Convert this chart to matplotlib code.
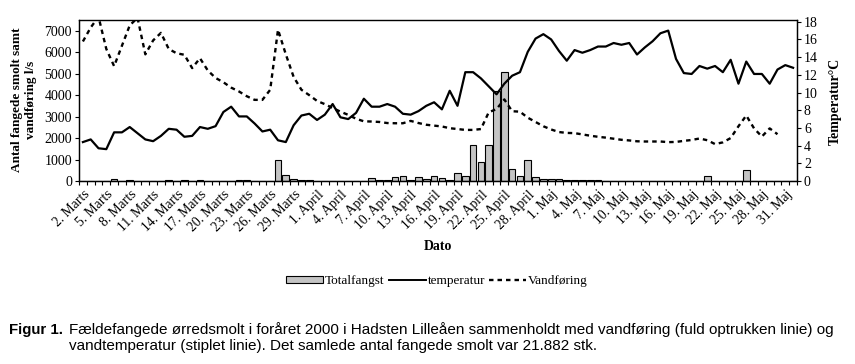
import numpy as np
import matplotlib
matplotlib.use('Agg')
import matplotlib.pyplot as plt
from matplotlib.patches import Patch
from matplotlib.lines import Line2D

# dage fra 2. marts til 1. juni 2000 (kategoriakse)
n_days = 92

totalfangst = [0, 0, 0, 0, 70, 0, 40, 0, 0, 0,
               0, 50, 0, 40, 0, 40, 0, 0, 0, 0,
               60, 30, 0, 0, 0, 1000, 270, 90, 40, 30,
               20, 0, 15, 15, 15, 0, 0, 120, 60, 60,
               170, 230, 50, 170, 100, 220, 160, 50, 390, 250,
               1700, 880, 1700, 4200, 5100, 560, 250, 980, 170, 90,
               80, 90, 50, 40, 50, 30, 30, 20, 20, 20,
               20, 0, 0, 0, 0, 0, 0, 0, 0, 0,
               250, 20, 0, 0, 0, 500, 0, 15, 15, 15,
               0, 0]

temperatur = [4.4, 4.7, 3.7, 3.6, 5.5, 5.5, 6.1, 5.4, 4.7, 4.5,
              5.1, 5.9, 5.8, 5.0, 5.1, 6.1, 5.9, 6.2, 7.8, 8.4,
              7.3, 7.3, 6.5, 5.6, 5.8, 4.6, 4.4, 6.3, 7.4, 7.6,
              6.9, 7.5, 8.7, 7.2, 7.0, 7.7, 9.3, 8.4, 8.4, 8.7,
              8.4, 7.6, 7.5, 7.9, 8.5, 8.9, 8.1, 10.2, 8.5, 12.3,
              12.3, 11.6, 10.7, 9.8, 11.0, 11.9, 12.3, 14.6, 16.1, 16.6,
              16.0, 14.7, 13.6, 14.8, 14.5, 14.8, 15.2, 15.2, 15.6, 15.4,
              15.6, 14.3, 15.1, 15.8, 16.7, 17.0, 13.8, 12.2, 12.1, 13.0,
              12.7, 13.0, 12.3, 13.7, 11.0, 13.5, 12.1, 12.1, 11.0, 12.6,
              13.1, 12.8]

vandforing = [6500, 7150, 7650, 6150, 5350, 6300, 7250, 7600, 5900, 6550,
              6900, 6150, 5950, 5880, 5260, 5720, 5150, 4800, 4600, 4350,
              4170, 3950, 3780, 3780, 4250, 7050, 5900, 4850, 4250, 4000,
              3730, 3580, 3400, 3230, 3080, 2900, 2780, 2770, 2750, 2700,
              2690, 2690, 2800, 2700, 2620, 2580, 2540, 2460, 2420, 2380,
              2380, 2420, 3200, 3350, 3800, 3250, 3230, 2950, 2750, 2550,
              2400, 2280, 2240, 2230, 2170, 2110, 2060, 2020, 1970, 1920,
              1890, 1850, 1840, 1840, 1840, 1810, 1820, 1870, 1910, 1980,
              1900, 1720, 1800, 2000, 2550, 3050, 2450, 2070, 2450, 2180]

tick_labels = ['2. Marts', '5. Marts', '8. Marts', '11. Marts', '14. Marts',
               '17. Marts', '20. Marts', '23. Marts', '26. Marts', '29. Marts',
               '1. April', '4. April', '7. April', '10. April', '13. April',
               '16. April', '19. April', '22. April', '25. April', '28. April',
               '1. Maj', '4. Maj', '7. Maj', '10. Maj', '13. Maj', '16. Maj',
               '19. Maj', '22. Maj', '25. Maj', '28. Maj', '31. Maj']

serif = 'Liberation Serif'
plt.rcParams['font.family'] = serif

fig = plt.figure(figsize=(8.55, 3.64), dpi=100)
ax = fig.add_axes([79/855, 1-181/364, (797-79)/855, (181-20)/364])
ax2 = ax.twinx()

days = np.arange(n_days)
ax.bar(days, totalfangst, width=0.86, color='#c4c4c4', edgecolor='black', linewidth=0.8, zorder=2)
ax.plot(np.arange(len(vandforing)), vandforing, color='black', lw=1.7,
        linestyle=(0, (1.9, 1.7)), zorder=3)
ax2.plot(days, temperatur, color='black', lw=1.6, zorder=3)

ax.set_xlim(-0.5, n_days - 0.5)
ax.set_ylim(0, 7500)
ax2.set_ylim(0, 18.2)
ax.set_yticks(range(0, 7001, 1000))
ax2.set_yticks(range(0, 19, 2))

ax.set_xticks(days[::3])
ax.set_xticklabels(tick_labels, rotation=45, ha='right', va='top',
                   rotation_mode='anchor', fontsize=9.8)
ax.set_xticks(np.arange(-0.5, n_days, 1), minor=True)
ax.tick_params(axis='x', which='major', length=0, pad=5)
ax.tick_params(axis='x', which='minor', length=3, width=0.8, direction='out')
ax.tick_params(axis='y', labelsize=10, length=3, width=0.8, pad=2)
ax2.tick_params(axis='y', labelsize=10, length=3, width=0.8, pad=2)

for a in (ax, ax2):
    for s in a.spines.values():
        s.set_linewidth(0.9)
ax.spines['top'].set_color('#555555')

fig.text(24/855, 1-100/364, 'Antal fangede smolt samt\nvandføring l/s', rotation=90,
         ha='center', va='center', fontsize=9.5, fontweight='bold', linespacing=1.3)
fig.text(835/855, 1-101/364, 'Temperatur°C', rotation=90, ha='center', va='center',
         fontsize=10, fontweight='bold')
fig.text(438/855, 1-247/364, 'Dato', ha='center', va='center', fontsize=10, fontweight='bold')

handles = [Patch(facecolor='#c4c4c4', edgecolor='black', linewidth=0.8),
           Line2D([], [], color='black', lw=1.4),
           Line2D([], [], color='black', lw=1.7, linestyle=(0, (1.9, 1.7)))]
fig.legend(handles, ['Totalfangst', 'temperatur', 'Vandføring'], loc='center',
           bbox_to_anchor=(437/855, 1-281/364), ncol=3, frameon=False, fontsize=9.5,
           handlelength=2.8, handleheight=0.5, columnspacing=0.3, handletextpad=0.15)

sans = 'Liberation Sans'
fig.text(9/855, 1-330/364, 'Figur 1.', family=sans, fontweight='bold', fontsize=10.8,
         ha='left', va='center')
fig.text(69/855, 1-330/364,
         'Fældefangede ørredsmolt i foråret 2000 i Hadsten Lilleåen sammenholdt med vandføring (fuld optrukken linie) og',
         family=sans, fontsize=10.95, ha='left', va='center')
fig.text(69/855, 1-346/364,
         'vandtemperatur (stiplet linie). Det samlede antal fangede smolt var 21.882 stk.',
         family=sans, fontsize=10.95, ha='left', va='center')

fig.savefig('out.png', dpi=100, facecolor='white')
